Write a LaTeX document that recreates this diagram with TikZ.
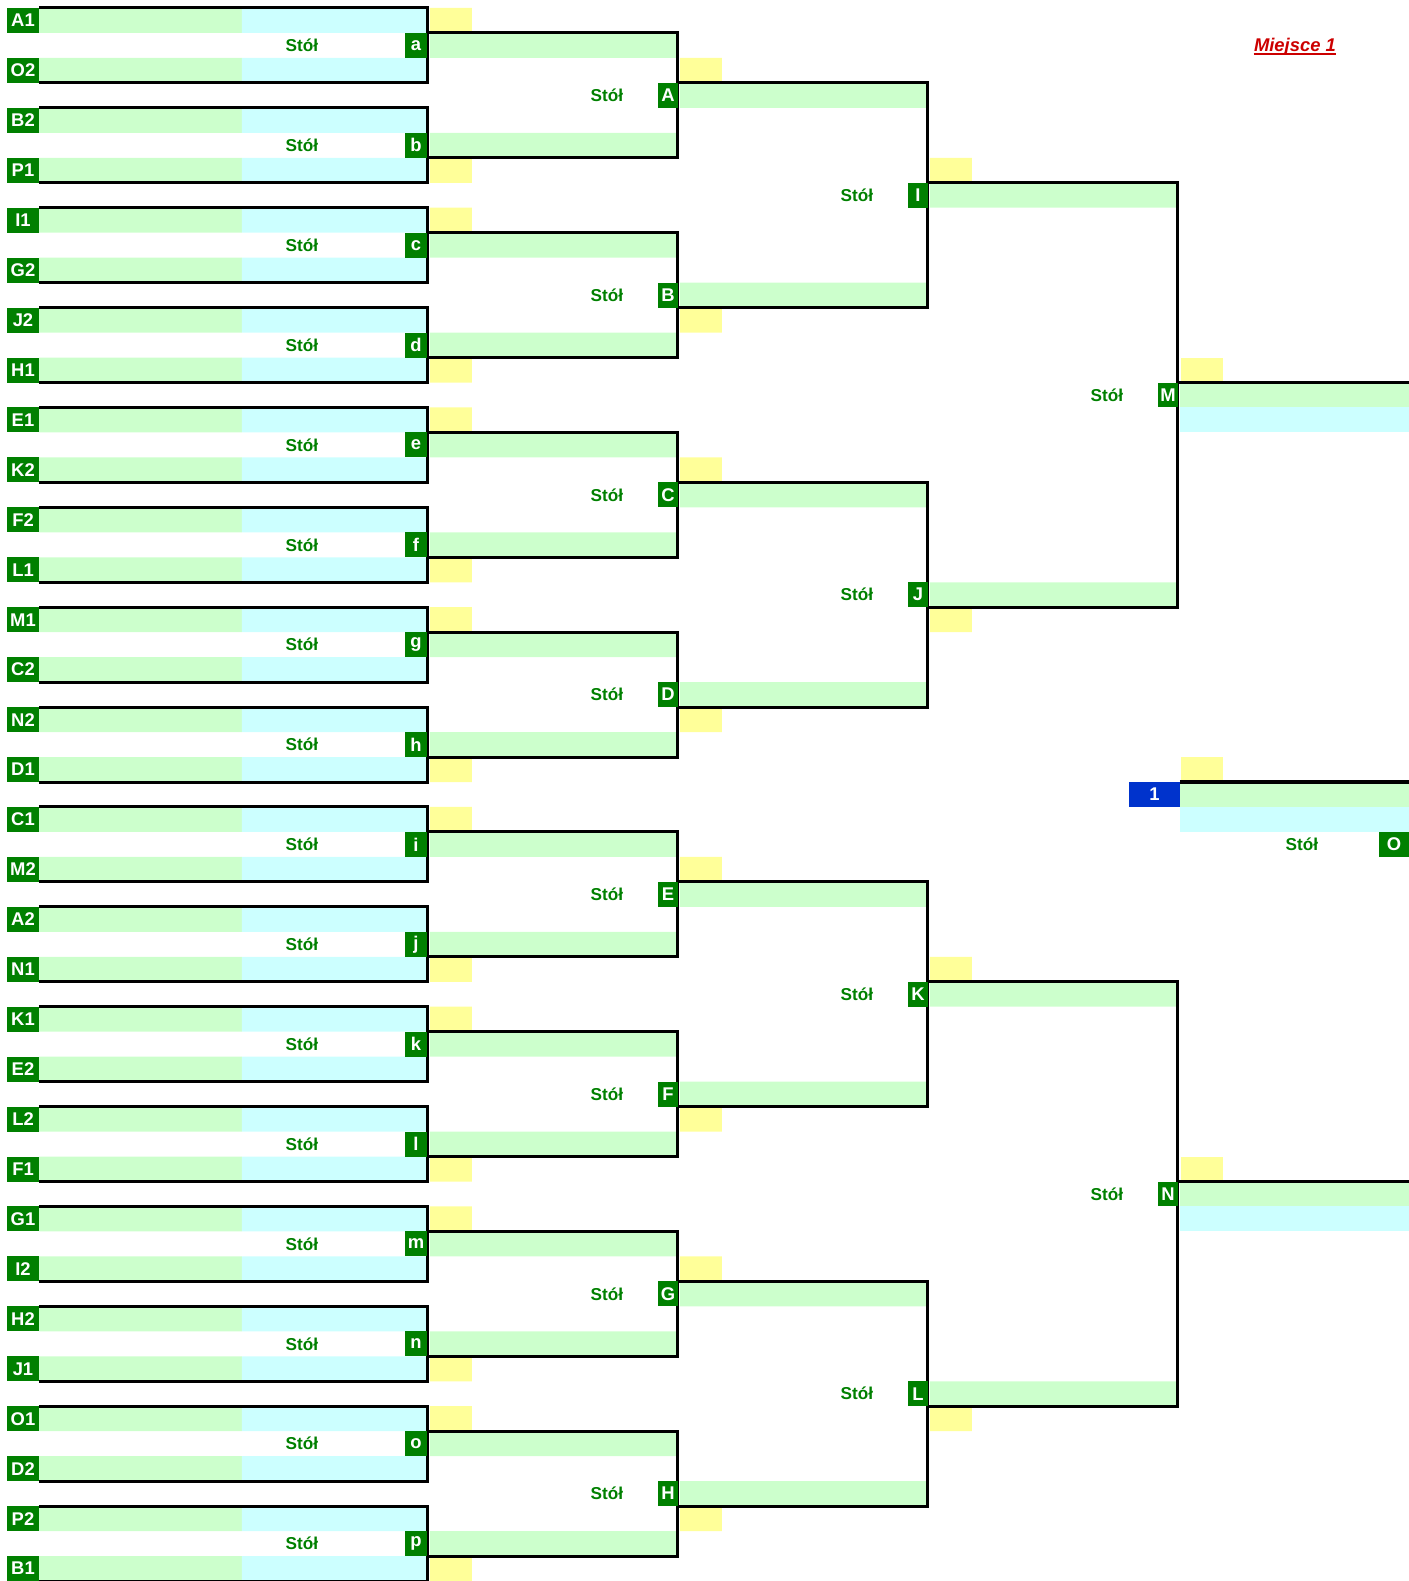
\documentclass[tikz,border=0pt]{standalone}
\usepackage{fontspec}
\setmainfont{Liberation Sans}
\definecolor{tabgreen}{HTML}{008000}
\definecolor{rowgreen}{HTML}{CCFFCC}
\definecolor{rowcyan}{HTML}{CCFFFF}
\definecolor{rowyellow}{HTML}{FFFF99}
\definecolor{placeblue}{HTML}{0033CC}
\definecolor{placered}{HTML}{CC0000}
\begin{document}
\begin{tikzpicture}[x=0.5pt, y=-12.485pt, font=\fontsize{8.6}{10}\selectfont\bfseries,
    tab/.style={fill=tabgreen, text=white, inner sep=0pt, minimum height=12.485pt,
        font=\fontsize{9.2}{10}\selectfont\bfseries},
    stol/.style={text=tabgreen, inner sep=0pt},
    bracket/.style={line width=1.5pt}]
    \useasboundingbox (0,-0.32) rectangle (1409,63);

    % First round: upper player in row 4k, lower player in row 4k+2
    \foreach \m/\pa/\pb [count=\idx from 0] in {
        a/A1/O2, b/B2/P1, c/I1/G2, d/J2/H1, e/E1/K2, f/F2/L1, g/M1/C2, h/N2/D1,
        i/C1/M2, j/A2/N1, k/K1/E2, l/L2/F1, m/G1/I2, n/H2/J1, o/O1/D2, p/P2/B1
    } {
        \pgfmathtruncatemacro{\row}{4*\idx}
        \fill[rowgreen] (39,\row) rectangle (242,\row+1) (39,\row+2) rectangle (242,\row+3);
        \fill[rowcyan] (242,\row) rectangle (428,\row+1) (242,\row+2) rectangle (428,\row+3);
        \draw[bracket] (39,\row) -- (428,\row) -- (428,\row+3) -- (39,\row+3);
        \node[tab, minimum width=16pt] (\pa) at (23,\row+0.5) {\pa};
        \node[tab, minimum width=16pt] (\pb) at (23,\row+2.5) {\pb};
        \node[tab, minimum width=11pt] (m\m) at (416,\row+1.5) {\m};
        \node[stol] (s\m) at (302,\row+1.5) {Stół};
    }

    % Later rounds: left edge, upper feed row, distance to the lower feed row
    \foreach \m/\xa/\row/\gap in {
        A/428/1/4, B/428/9/4, C/428/17/4, D/428/25/4, E/428/33/4, F/428/41/4, G/428/49/4, H/428/57/4,
        I/678/3/8, J/678/19/8, K/678/35/8, L/678/51/8,
        M/928/7/16, N/928/39/16
    } {
        \fill[rowgreen] (\xa+2,\row) rectangle (\xa+250,\row+1) (\xa+2,\row+\gap) rectangle (\xa+250,\row+\gap+1);
        \fill[rowyellow] (\xa+2,\row-1) rectangle (\xa+44,\row) (\xa+2,\row+\gap+1) rectangle (\xa+44,\row+\gap+2);
        \draw[bracket] (\xa,\row) -- (\xa+250,\row) -- (\xa+250,\row+\gap+1) -- (\xa,\row+\gap+1);
        \node[tab, minimum width=10pt] (m\m) at (\xa+240,\row+\gap/2+0.5) {\m};
        \node[stol] (s\m) at (\xa+179,\row+\gap/2+0.5) {Stół};
    }

    % Final
    \foreach \row in {15,31,47} {
        \fill[rowyellow] (1181,\row-1) rectangle (1223,\row);
        \fill[rowgreen] (1180,\row) rectangle (1409,\row+1);
        \fill[rowcyan] (1180,\row+1) rectangle (1409,\row+2);
    }
    \draw[bracket] (1178,15) -- (1409,15);
    \draw[bracket] (1178,47) -- (1409,47);
    \draw[line width=2.3pt] (1180,31) -- (1409,31);
    \node[tab, fill=placeblue, minimum width=25.5pt] (w1) at (1154.5,31.5) {1};
    \node[stol] (sO) at (1302,33.5) {Stół};
    \node[tab, minimum width=15pt] (mO) at (1394,33.5) {O};

    \node[text=placered, font=\fontsize{9.2}{11}\selectfont\bfseries\itshape, inner sep=0pt, anchor=base]
        (place) at (1295,1.74) {Miejsce 1};
    \draw[placered, line width=1.2pt] ([yshift=-1.3pt]place.base west) -- ([yshift=-1.3pt]place.base east);
\end{tikzpicture}
\end{document}
